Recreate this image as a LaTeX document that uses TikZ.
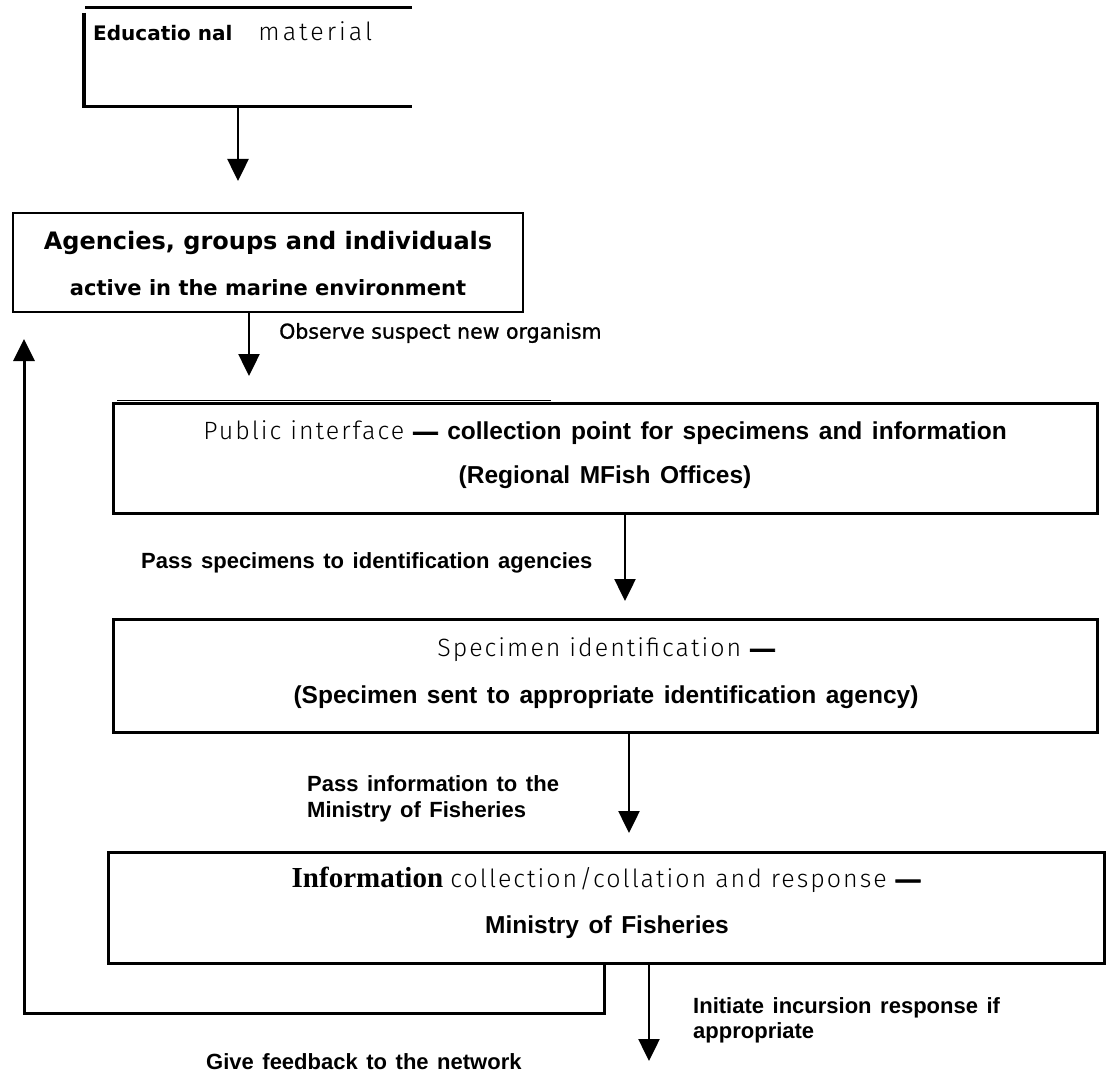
\documentclass[tikz,border=0pt]{standalone}
\usepackage{fontspec}
\usetikzlibrary{arrows.meta}
\newfontfamily\verd{DejaVu Sans}
\newfontfamily\hel{Liberation Sans}[WordSpace=1.4]
\newfontfamily\tim{Liberation Serif}
\newfontfamily\thinf{Fira Sans Light}[LetterSpace=8]
\newcommand\fsz[1]{\fontsize{#1}{#1}\selectfont}
\newcommand\bdash{{\hel\bfseries\addfontfeature{FakeBold=3}\fsz{24.5}—}}
\tikzset{
  box/.style={draw, line width=3pt, inner sep=0pt},
  arr/.style={line width=2.5pt, -{Triangle[width=21pt,length=22pt]}},
  lbl/.style={inner sep=0pt, anchor=west, align=left},
  txt/.style={inner sep=0pt},
}
\begin{document}
\begin{tikzpicture}[x=1pt,y=-1pt]
\fill[white] (0,0) rectangle (1108,1086);
\useasboundingbox (0,0) rectangle (1108,1086);

% top box, open on the right
\draw[line width=3pt] (412,8) -- (85,8);
\draw[line width=4pt] (83.5,13) -- (83.5,107);
\draw[line width=3pt] (82,107) -- (412,107);
\node[lbl] (edu) at (93,31) {{\verd\bfseries\fsz{20}Educatio nal}\hspace{26pt}{\thinf\addfontfeature{LetterSpace=12}\fsz{25}material}};
\coordinate (edubot) at (238,107);
\coordinate (a1) at (238,181);
\draw[arr] (edubot) -- (a1);

% agencies box
\node[box, line width=2.2pt, minimum width=510pt, minimum height=99pt] (agencies) at (268,262.5) {};
\node[txt] (ag1) at (268,243) {\verd\bfseries\fsz{24}Agencies, groups and individuals};
\node[txt] (ag2) at (268,288) {\verd\bfseries\fsz{21}active in the marine environment};
\coordinate (obs) at (249,376);
\draw[arr] (agencies.south -| obs) -- (obs);
\node[lbl] (obsl) at (279,333) {\verd\addfontfeature{FakeBold=1}\fsz{20.5}Observe suspect new organism};

% public interface box
\node[box, minimum width=984pt, minimum height=110pt] (public) at (605,458) {};
\draw[line width=0.9pt] (117,400.8) -- (551,400.8);
\node[txt] (pub1) at (605,433) {{\thinf\fsz{25}Public interface }\bdash{\hel\bfseries\fsz{24.5} collection point for specimens and information}};
\node[txt] (pub2) at (605,477) {\hel\bfseries\fsz{24.5}(Regional MFish Offices)};
\coordinate (p2) at (625,601);
\draw[arr] (public.south -| p2) -- (p2);
\node[lbl] (pass1) at (141,563) {\hel\bfseries\fsz{22}Pass specimens to identification agencies};

% specimen identification box
\node[box, minimum width=984pt, minimum height=113pt] (spec) at (605,675.5) {};
\node[txt] (sp1) at (606,650) {{\thinf\fsz{25}Specimen identification }\bdash};
\node[txt] (sp2) at (606,697) {\hel\bfseries\fsz{24.5}(Specimen sent to appropriate identification agency)};
\coordinate (p3) at (629,833);
\draw[arr] (spec.south -| p3) -- (p3);
\node[lbl, font=\hel\bfseries\fontsize{22}{26}\selectfont] (pass2) at (307,799) {Pass information to the\\Ministry of Fisheries};

% information box
\node[box, minimum width=996pt, minimum height=111pt] (info) at (606,907.5) {};
\node[txt] (in1) at (606,880) {{\tim\bfseries\fsz{29}Information }{\thinf\fsz{25}collection/collation and response }\bdash};
\node[txt] (in2) at (607,927) {\hel\bfseries\fsz{24.5}Ministry of Fisheries};

% incursion response
\coordinate (p4) at (649,1061);
\draw[arr] (info.south -| p4) -- (p4);
\node[lbl, font=\hel\bfseries\fontsize{22}{25}\selectfont] (init) at (693,1020) {Initiate incursion response if\\appropriate};

% feedback loop
\coordinate (fbx) at (604,1013);
\coordinate (fb) at (24,339);
\draw[arr, line width=3pt, line join=miter] (info.south -| fbx) -- (fbx) -- (fbx -| fb) -- (fb);
\node[lbl] (gfb) at (206,1062) {\hel\bfseries\fsz{22}Give feedback to the network};
\end{tikzpicture}
\end{document}
